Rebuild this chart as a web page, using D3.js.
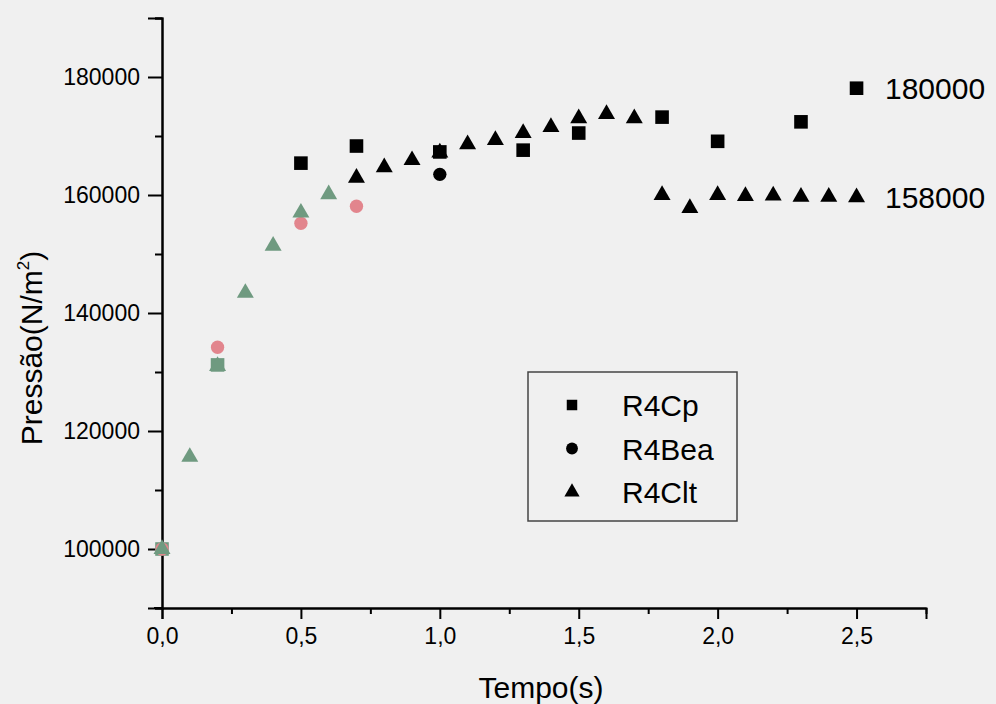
<!DOCTYPE html>
<html>
<head>
<meta charset="utf-8">
<script src="https://cdn.jsdelivr.net/npm/d3@7"></script>
<style>
  body { margin: 0; background: #f0f0f0; }
  svg { display: block; font-family: "Liberation Sans", Arial, sans-serif; }
</style>
</head>
<body>
<div id="chart"></div>
<script>
// R4Cp (squares)
const cpTime = [0, 0.2, 0.5, 0.7, 1.0, 1.3, 1.5, 1.8, 2.0, 2.3, 2.5];
const cpPressure = [100000, 131200, 165400, 168300, 167300, 167600, 170500, 173200, 169100, 172400, 178100];
// R4Bea (circles)
const beaTime = [0, 0.2, 0.5, 0.7, 1.0];
const beaPressure = [100000, 134200, 155200, 158100, 163500];
// R4Clt (triangles)
const cltTime = [0, 0.1, 0.2, 0.3, 0.4, 0.5, 0.6, 0.7, 0.8, 0.9, 1.0, 1.1, 1.2, 1.3, 1.4, 1.5, 1.6, 1.7,
  1.8, 1.9, 2.0, 2.1, 2.2, 2.3, 2.4, 2.5];
const cltPressure = [100000, 115600, 131000, 143400, 151400, 157000, 160100, 162900, 164700, 165900, 167200,
  168600, 169300, 170500, 171500, 173000, 173700, 173000, 160000, 157800, 160000, 159800, 159900, 159700,
  159700, 159600];

const xTicks = [0, 0.5, 1.0, 1.5, 2.0, 2.5];
const yTicks = [100000, 120000, 140000, 160000, 180000];
const seriesNames = ["R4Cp", "R4Bea", "R4Clt"];
const endLabels = ["180000", "158000"];

const w = 996, h = 704;
const svg = d3.select("#chart").append("svg").attr("width", w).attr("height", h);
svg.append("rect").attr("width", w).attr("height", h).attr("fill", "#f0f0f0");

const x = d3.scaleLinear().domain([0, 2.75]).range([162, 926]);
const y = d3.scaleLinear().domain([90000, 190000]).range([608, 18]);

// axes
const yAxis = svg.append("g").attr("transform", "translate(162,0)");
yAxis.call(d3.axisLeft(y).tickValues(d3.range(90000, 190001, 10000).filter(v => !yTicks.includes(v)))
  .tickSize(7).tickFormat(""));
yAxis.append("g").call(d3.axisLeft(y).tickValues(yTicks).tickSize(14).tickPadding(8).tickFormat(d => d));
yAxis.selectAll("path").attr("stroke", "#000").attr("stroke-width", 2);
yAxis.selectAll("line").attr("stroke", "#000").attr("stroke-width", 2);
yAxis.selectAll("g").attr("font-size", null).attr("font-family", null);
yAxis.selectAll("text").attr("fill", "#000").style("font-size", "23px");

const xAxis = svg.append("g").attr("transform", "translate(0,608)");
xAxis.call(d3.axisBottom(x).tickValues(d3.range(0.25, 2.76, 0.5)).tickSize(6).tickFormat("").tickSizeOuter(0));
xAxis.append("g").call(d3.axisBottom(x).tickValues(xTicks).tickSize(11).tickPadding(9)
  .tickFormat(d => d.toFixed(1).replace(".", ",")));
xAxis.selectAll("path").attr("stroke", "#000").attr("stroke-width", 2);
xAxis.selectAll("line").attr("stroke", "#000").attr("stroke-width", 2);
xAxis.selectAll("g").attr("font-size", null).attr("font-family", null);
xAxis.selectAll("text").attr("fill", "#000").style("font-size", "23px");
svg.append("line").attr("x1", 154).attr("x2", 162).attr("y1", 608).attr("y2", 608)
  .attr("stroke", "#000").attr("stroke-width", 2);

// titles
svg.append("text").attr("x", 541).attr("y", 698).attr("text-anchor", "middle")
  .style("font-size", "30px").text("Tempo(s)");
const yt = svg.append("text").attr("transform", "translate(42,348) rotate(-90)").attr("text-anchor", "middle")
  .style("font-size", "30px");
yt.append("tspan").text("Pressão(N/m");
yt.append("tspan").style("font-size", "17px").attr("dy", -13).text("2");
yt.append("tspan").attr("dy", 13).text(")");

// markers
const green = "#6f9a80", pink = "#e2858d";
const sym = {
  square: d3.symbol().type(d3.symbolSquare).size(185),
  circle: d3.symbol().type(d3.symbolCircle).size(140),
  triangle: d3.symbol().type(d3.symbolTriangle).size(125)
};
function plot(times, vals, shape, faded, fadeColor) {
  svg.append("g").selectAll("path").data(times).join("path")
    .attr("d", sym[shape])
    .attr("transform", (t, i) => `translate(${x(t)},${y(vals[i])})`)
    .attr("fill", (t, i) => i < faded ? fadeColor : "#000");
}
plot(cpTime, cpPressure, "square", 2, green);
plot(beaTime, beaPressure, "circle", 4, pink);
plot(cltTime, cltPressure, "triangle", 7, green);

// end labels
svg.append("text").attr("x", 885).attr("y", y(cpPressure[cpPressure.length - 1]) + 11)
  .style("font-size", "30px").text(endLabels[0]);
svg.append("text").attr("x", 885).attr("y", y(cltPressure[cltPressure.length - 1]) + 11)
  .style("font-size", "30px").text(endLabels[1]);

// legend
const lg = svg.append("g");
lg.append("rect").attr("x", 528).attr("y", 372).attr("width", 209).attr("height", 149)
  .attr("fill", "none").attr("stroke", "#444").attr("stroke-width", 1.5);
const shapes = ["square", "circle", "triangle"];
const legendSym = {
  square: d3.symbol().type(d3.symbolSquare).size(110),
  circle: d3.symbol().type(d3.symbolCircle).size(110),
  triangle: d3.symbol().type(d3.symbolTriangle).size(100)
};
seriesNames.forEach((n, i) => {
  const yy = 405 + i * 43.5;
  lg.append("path").attr("d", legendSym[shapes[i]]).attr("transform", `translate(572,${yy})`).attr("fill", "#000");
  lg.append("text").attr("x", 622).attr("y", yy + 11).style("font-size", "30px").text(n);
});
</script>
</body>
</html>
